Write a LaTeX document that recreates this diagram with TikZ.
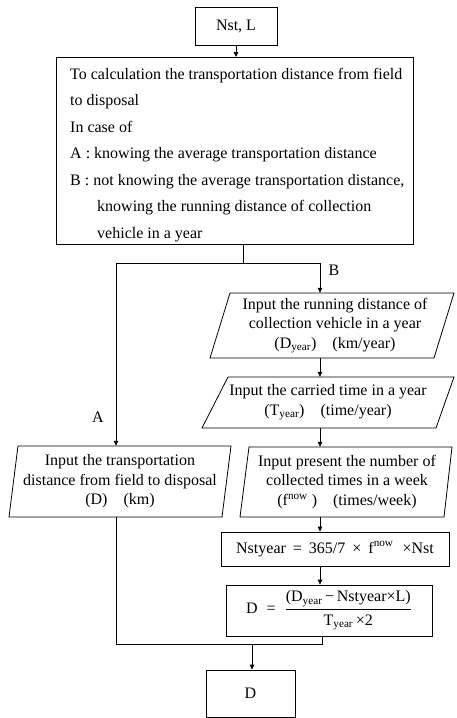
\documentclass[tikz,border=0pt]{standalone}
\usepackage{fontspec}
\setmainfont{Liberation Serif}
\usetikzlibrary{arrows.meta}
\begin{document}
\begin{tikzpicture}[x=1pt,y=-1pt,
  every node/.style={font=\fontsize{16}{19.5}\selectfont},
  ln/.style={line width=0.8pt},
  arr/.style={ln,-{Triangle[length=5pt,width=4.5pt]}},
  box/.style={draw,ln,inner sep=0pt},
  ptext/.style={align=center,inner sep=0pt}]
\useasboundingbox[fill=white] (0,0) rectangle (456,718);

% boxes
\node[box, minimum width=82, minimum height=38] (nst) at (236,26) {Nst, L};
\node[box, minimum width=357, minimum height=187, anchor=north west] (task) at (56,57) {};
\node[anchor=north west, inner sep=0pt, align=left, font=\fontsize{16}{26.5}\selectfont] (tasktext) at (70,68)
 {To calculation the transportation distance from field\\
  to disposal\\
  In case of\\
  A : knowing the average transportation distance\\
  B : not knowing the average transportation distance,\\
  \hspace*{27pt}knowing the running distance of collection\\
  \hspace*{27pt}vehicle in a year};

% parallelograms
\draw[ln] (230,293) -- (454,293) -- (434,358) -- (210,358) -- cycle;
\node[ptext, minimum width=200, minimum height=65] (p1) at (335,325.5)
 {Input the running distance of\\collection vehicle in a year\\(D\textsubscript{year})\quad(km/year)};

\draw[ln] (228,377) -- (454,377) -- (436,428) -- (202,428) -- cycle;
\node[ptext, minimum width=200, minimum height=51] (p2) at (328,402.5)
 {Input the carried time in a year\\(T\textsubscript{year})\quad(time/year)};

\draw[ln] (249,447) -- (452,447) -- (444,517) -- (240,517) -- cycle;
\node[ptext, minimum width=190, minimum height=70] (p3) at (347,482)
 {Input present the number of\\collected times in a week\\(f\textsuperscript{now}\ )\quad(times/week)};

\draw[ln] (18,446) -- (231,446) -- (222,517) -- (9,517) -- cycle;
\node[ptext, minimum width=200, minimum height=71] (pA) at (120,481.5)
 {Input the transportation\\distance from field to disposal\\(D)\quad(km)};

\node[box, minimum width=228, minimum height=34] (nsty) at (335,549)
 {Nstyear\hspace{7pt}=\hspace{7pt}365/7\hspace{7pt}×\hspace{7pt}f\textsuperscript{now}\hspace{9pt}×Nst};

\node[box, minimum width=206, minimum height=51] (form) at (329,610.5)
 {D\hspace{9pt}=\hspace{9pt}$\displaystyle\frac{\hbox{(D\textsubscript{year}\,−\,Nstyear×L)}}{\hbox{T\textsubscript{year}\,×2}}$};

\node[box, minimum width=89, minimum height=47] (dout) at (250.5,693.5) {D};

% labels
\node (lblB) at (334,270) {B};
\node (lblA) at (98,417) {A};

% connectors
\coordinate (j1) at (243,263);
\coordinate (jA) at (116,263);
\coordinate (jB) at (320,263);
\coordinate (jD) at (322,644);
\coordinate (jE) at (116,644);
\coordinate (jF) at (252,644);

\draw[arr] (nst.south) -- (nst.south |- task.north);
\draw[ln] (task.south -| j1) -- (j1);
\draw[ln] (jA) -- (jB);
\draw[arr] (jB) -- (jB |- p1.north);
\draw[arr] (jA) -- (jA |- pA.north);
\draw[arr] (p1.south -| jB) -- (jB |- p2.north);
\draw[arr] (p2.south -| jB) -- (jB |- p3.north);
\draw[arr] (p3.south -| jB) -- (jB |- nsty.north);
\draw[arr] (nsty.south -| jB) -- (jB |- form.north);
\draw[ln] (form.south -| jD) -- (jD) -- (jE) -- (pA.south -| jE);
\draw[arr] (jF) -- (jF |- dout.north);
\end{tikzpicture}
\end{document}
